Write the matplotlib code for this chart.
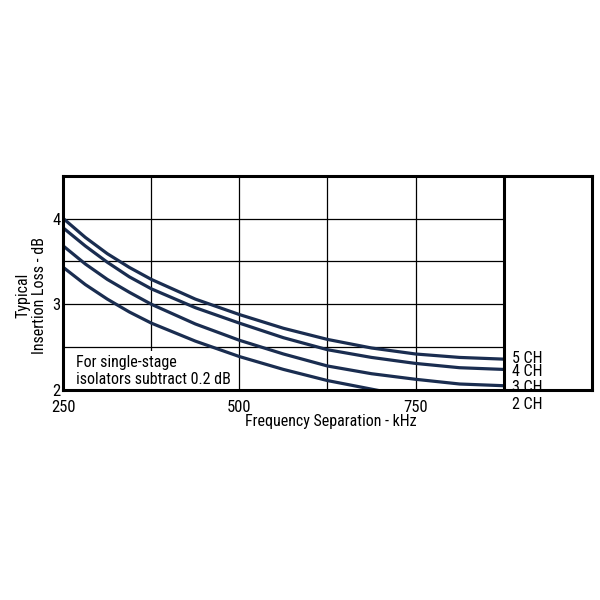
import matplotlib
matplotlib.use("Agg")
import matplotlib.pyplot as plt

plt.rcParams['font.family'] = ['Roboto Condensed', 'DejaVu Sans']

# frequency separation (kHz) and typical insertion loss (dB)
freq = [250, 281.25, 312.5, 343.75, 375, 437.5, 500, 562.5, 625, 687.5, 750, 812.5, 875]
loss_5ch = [4.00, 3.78, 3.59, 3.43, 3.29, 3.06, 2.88, 2.72, 2.59, 2.49, 2.42, 2.38, 2.36]
loss_4ch = [3.89, 3.68, 3.49, 3.32, 3.18, 2.96, 2.78, 2.61, 2.47, 2.38, 2.31, 2.26, 2.24]
loss_3ch = [3.68, 3.47, 3.29, 3.14, 3.00, 2.77, 2.58, 2.42, 2.28, 2.19, 2.125, 2.07, 2.05]
freq_2ch = [250, 281.25, 312.5, 343.75, 375, 437.5, 500, 562.5, 625, 687.5, 700]
loss_2ch = [3.43, 3.23, 3.06, 2.91, 2.78, 2.57, 2.39, 2.24, 2.11, 2.01, 1.99]

channel_labels = ["5 CH", "4 CH", "3 CH", "2 CH"]
label_y = [2.37, 2.21, 2.03, 1.83]

x_ticks = [250, 500, 750]
y_ticks = [2, 3, 4]
x_grid = [375, 500, 625, 750]
y_grid = [2.5, 3, 3.5, 4]

navy = "#1a2d50"

fig = plt.figure(figsize=(6, 6), dpi=100)
ax = fig.add_axes([0.1055, 0.35, 0.8806, 0.3572])
ax.set_xlim(250, 1000)
ax.set_ylim(2, 4.5)

# grid only inside the chart part (left of the 875 divider)
for gx in x_grid:
    ax.plot([gx, gx], [2, 4.5], color="black", lw=0.9, zorder=1)
for gy in y_grid:
    ax.plot([250, 875], [gy, gy], color="black", lw=0.9, zorder=1)
ax.plot([875, 875], [2, 4.5], color="black", lw=2.2, zorder=3)

for ys in [loss_5ch, loss_4ch, loss_3ch]:
    ax.plot(freq, ys, color=navy, lw=2.3, zorder=2, solid_capstyle="butt")
ax.plot(freq_2ch, loss_2ch, color=navy, lw=2.3, zorder=2, solid_capstyle="butt")

for lab, ly in zip(channel_labels, label_y):
    ax.text(887, ly, lab, fontsize=11.5, ha="left", va="center", clip_on=False)

ax.text(268, 2.22, "For single-stage\nisolators subtract 0.2 dB", fontsize=11.5,
        ha="left", va="center", linespacing=1.2, zorder=1.5,
        bbox=dict(facecolor="white", edgecolor="none", pad=2.5))

for sp in ax.spines.values():
    sp.set_linewidth(2.2)
    sp.set_color("black")

ax.set_xticks(x_ticks)
ax.set_yticks(y_ticks)
ax.tick_params(length=0, labelsize=12)
ax.tick_params(axis="x", pad=7.5)
ax.tick_params(axis="y", pad=2)

fig.text(0.552, 0.298, "Frequency Separation - kHz", fontsize=11.5, ha="center", va="center")
fig.text(0.052, 0.508, "Typical\nInsertion Loss - dB", fontsize=11.5, ha="center", va="center",
         rotation=90, linespacing=1.05)

fig.savefig("out.png", dpi=100)
